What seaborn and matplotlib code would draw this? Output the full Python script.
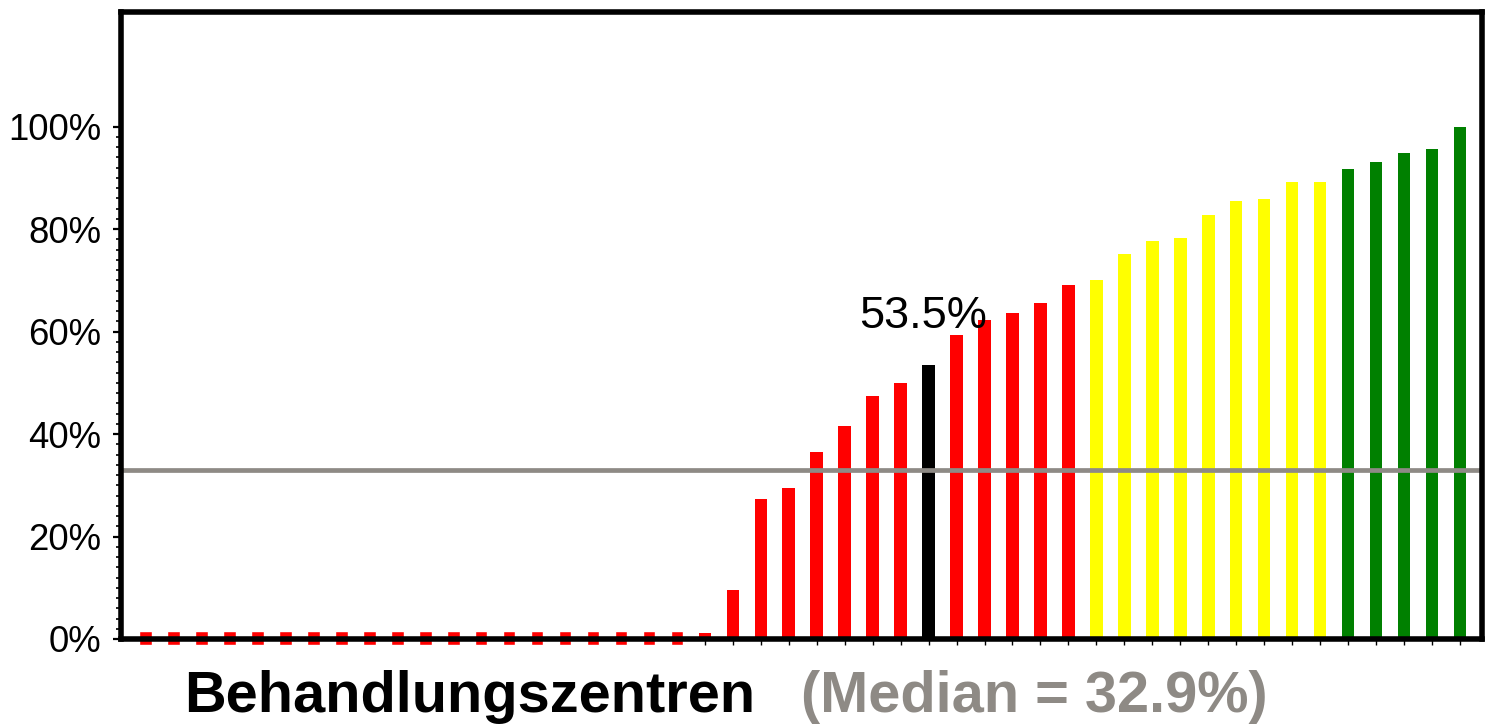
import numpy as np
import pandas as pd
import matplotlib
matplotlib.use("Agg")
import matplotlib.pyplot as plt
from matplotlib.ticker import FixedLocator
import seaborn as sns

# ---- data ----
centres = [f"Z{i+1}" for i in range(48)]
values = [0.0] * 20 + [1.1, 9.6, 27.3, 29.4, 36.6, 41.5, 47.5, 50.0, 53.5,
                       59.3, 62.3, 63.6, 65.6, 69.1,
                       70.1, 75.1, 77.6, 78.2, 82.7, 85.5, 85.9, 89.2, 89.2,
                       91.8, 93.1, 94.9, 95.7, 100.0]
groups = (["rot"] * 28 + ["markiert"] + ["rot"] * 5 + ["gelb"] * 9 + ["grün"] * 5)
median_value = 32.9
highlight_label = "53.5%"
y_ticks = [0, 20, 40, 60, 80, 100]
y_tick_labels = ["0%", "20%", "40%", "60%", "80%", "100%"]
xlabel_main = "Behandlungszentren"
xlabel_median = "(Median = 32.9%)"

# ---- style ----
group_colors = {"rot": "#ff0000", "markiert": "#000000", "gelb": "#ffff00", "grün": "#008000"}
gray = "#8e8a85"

sns.set_style("white")
plt.rcParams["font.family"] = ["Liberation Sans", "DejaVu Sans"]

df = pd.DataFrame({"centre": centres, "value": values, "group": groups})

fig = plt.figure(figsize=(14.9, 7.24), dpi=100)
ax = fig.add_axes([121 / 1490, 1 - 639 / 724, (1482 - 121) / 1490, (639 - 12) / 724])

palette = [group_colors[g] for g in groups]
sns.barplot(data=df, x="centre", y="value", hue="centre", palette=palette,
            legend=False, width=0.45, ax=ax, saturation=1, edgecolor="none",
            zorder=2)

# zero-valued centres shown as small marks around the baseline
zero_below, zero_above = 1.1, 1.5
for i, (v, g) in enumerate(zip(values, groups)):
    if v == 0:
        ax.bar(i, zero_below + zero_above, bottom=-zero_below, width=0.45,
               color=group_colors[g], zorder=4, clip_on=False)

# median line
ax.axhline(median_value, color=gray, lw=3.4, zorder=5)

# highlight label over the black bar
hi = groups.index("markiert")
ax.text(hi - 0.2, values[hi] + 7.3, highlight_label, ha="center", va="baseline",
        fontsize=32.5, color="black", zorder=6)

ax.set_xlim(-0.88, len(values) - 1 + 0.79)
ax.set_ylim(0, 122.4)
ax.set_xlabel("")
ax.set_ylabel("")

ax.yaxis.set_major_locator(FixedLocator(y_ticks))
ax.set_yticklabels(y_tick_labels)
ax.yaxis.set_minor_locator(FixedLocator(np.arange(0, 101, 2)))
ax.tick_params(axis="y", which="major", direction="out", length=5.6, width=1.6,
               labelsize=26.3, pad=8.4, left=True, colors="black")
ax.tick_params(axis="y", which="minor", direction="out", length=3.6, width=1.2,
               left=True, colors="black")
ax.tick_params(axis="x", which="major", direction="out", length=4.6, width=1,
               bottom=True, labelbottom=False, colors="black")

for side in ["left", "right", "top", "bottom"]:
    ax.spines[side].set_visible(True)
    ax.spines[side].set_color("black")
    ax.spines[side].set_linewidth(4)
    ax.spines[side].set_zorder(7)

fig.text(184 / 1490, 1 - 712 / 724, xlabel_main, fontsize=41.6, fontweight="bold",
         color="black", va="baseline", ha="left")
fig.text(801 / 1490, 1 - 712 / 724, xlabel_median, fontsize=41.6, fontweight="bold",
         color=gray, va="baseline", ha="left")

fig.savefig("out.png", dpi=100)
